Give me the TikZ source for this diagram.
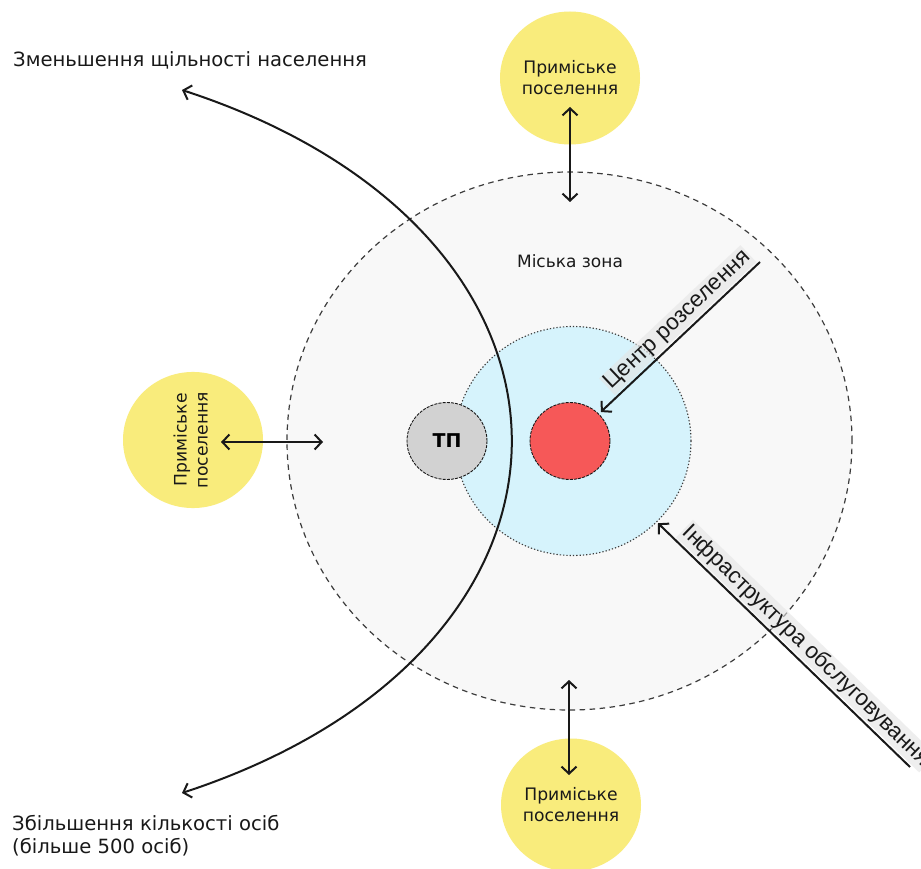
\documentclass[tikz,border=0pt]{standalone}
\usepackage{fontspec}
\setmainfont{DejaVu Sans}
\newfontfamily\labfont{Liberation Sans}
\usetikzlibrary{arrows.meta,shapes.geometric}
\definecolor{zonefill}{RGB}{248,248,248}
\definecolor{ylw}{RGB}{249,236,124}
\definecolor{lblue}{RGB}{214,243,252}
\definecolor{rd}{RGB}{246,88,88}
\definecolor{tpgray}{RGB}{210,210,210}
\definecolor{edgecol}{RGB}{60,60,60}
\definecolor{ink}{RGB}{25,25,25}
\definecolor{labbg}{RGB}{228,228,228}
\begin{document}
\begin{tikzpicture}[x=1pt,y=-1pt,
  blob/.style={ellipse, inner sep=0pt, outer sep=0pt},
  zonestyle/.style={blob, fill=zonefill, draw=edgecol, line width=1.2pt, dash pattern=on 5.5pt off 4.5pt, minimum width=565pt, minimum height=538pt},
  corestyle/.style={blob, fill=lblue, draw=edgecol, line width=1.1pt, dash pattern=on 1.3pt off 2pt, minimum width=236pt, minimum height=229pt},
  smallc/.style={blob, draw=ink, line width=0.9pt, dash pattern=on 3pt off 1.2pt, minimum width=80pt, minimum height=77pt},
  yellowc/.style={blob, fill=ylw, minimum width=140pt, minimum height=133pt, text=ink, align=center, font=\fontsize{17.2}{21}\selectfont},
  heading/.style={inner sep=0pt, text=ink, align=left, font=\fontsize{19.6}{23}\selectfont},
  plain/.style={inner sep=0pt, text=ink, font=\fontsize{17}{21}\selectfont},
  side/.style={sloped, above=1.5pt, text=ink, inner sep=1.5pt, fill=labbg, fill opacity=0.6, text opacity=1, font=\labfont\fontsize{22.5}{26}\selectfont},
  conn/.style={draw=ink, line width=2pt},
  >={Straight Barb[length=7pt,width=15pt]}
]
\useasboundingbox (0,0) rectangle (921,869);
\fill[white] (0,0) rectangle (921,869);

% zones
\node[zonestyle] (zone) at (569.5,441) {};
\node[corestyle] (core) at (573,441) {};
\node[smallc, fill=tpgray] (tp) at (447,441) {\fontsize{19}{22}\selectfont\bfseries ТП};
\node[smallc, fill=rd] (red) at (570,441) {};
\node[plain] (zonelabel) at (570,261) {Міська зона};

% suburban settlements
\node[yellowc] (ytop) at (570,78) {Приміське\\поселення};
\node[yellowc] (yleft) at (193,440) {\rotatebox{90}{\begin{tabular}{@{}c@{}}Приміське\\поселення\end{tabular}}};
\node[yellowc] (ybot) at (571,805) {Приміське\\поселення};

% two-way arrows
\coordinate (ta) at (570,107);
\coordinate (tb) at (570,202);
\draw[conn,<->] (ta) -- (tb);
\coordinate (la) at (221,442);
\coordinate (lb) at (323,442);
\draw[conn,<->] (la) -- (lb);
\coordinate (ba) at (569,680);
\coordinate (bb) at (569,775);
\draw[conn,<->] (ba) -- (bb);

% density curve
\node[heading, anchor=west] (dens) at (13,60) {Зменьшення щільності населення};
\node[heading, anchor=west] (pop) at (12,836) {Збільшення кількості осіб\\(більше 500 осіб)};
\coordinate (arcTop) at (182,90);
\coordinate (arcBot) at (182,793);
\draw[conn,<->] (arcTop) .. controls (621,233) and (621,649) .. (arcBot);

% labelled arrows
\coordinate (cs) at (760,262);
\draw[conn,->,shorten >=3pt] (cs) -- (red) node[side, pos=0.45] (centrelabel) {Центр розселення};
\coordinate (is) at (910,767);
\draw[conn,->,shorten >=2pt] (is) -- (core) node[side, pos=0.45] (infralabel) {Інфраструктура обслуговування};
\end{tikzpicture}
\end{document}
